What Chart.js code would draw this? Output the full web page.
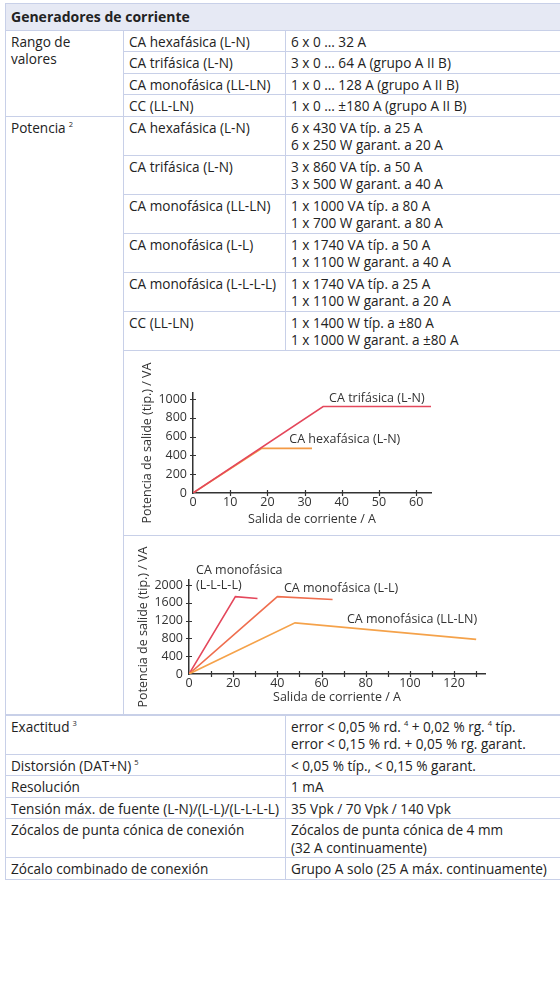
<!DOCTYPE html>
<html>
<head>
<meta charset="utf-8">
<script src="https://cdn.jsdelivr.net/npm/chart.js@4/dist/chart.umd.min.js"></script>
<style>
html,body{margin:0;padding:0;background:#fff;overflow:hidden;width:560px;height:991px}
body{font-family:'Open Sans',sans-serif;font-size:13.6px;color:#222}
table{position:absolute;left:5px;top:3px;border-collapse:collapse;table-layout:fixed;width:560px}
th,td{border:1px solid #c8d0e8;padding:2px 4px 1px 5px;line-height:17.5px;vertical-align:top;text-align:left;white-space:nowrap}
th{background:#e6e9f4;font-weight:700;font-size:14px;padding:4px 5px 4px 5px}
sup{font-size:7.5px;vertical-align:top;position:relative;top:-3px;margin-left:3px}
td.chart{padding:0}
td.gap{border-top:2px solid #c8d0e8}
.wrap{position:relative}
</style>
</head>
<body>
<table>
<colgroup><col style="width:118px"><col style="width:162px"><col style="width:280px"></colgroup>
<tr><th colspan="3">Generadores de corriente</th></tr>
<tr><td rowspan="4">Rango de<br>valores</td><td>CA hexafásica (L-N)</td><td>6 x 0 … 32 A</td></tr>
<tr><td>CA trifásica (L-N)</td><td>3 x 0 … 64 A (grupo A II B)</td></tr>
<tr><td>CA monofásica (LL-LN)</td><td>1 x 0 … 128 A (grupo A II B)</td></tr>
<tr><td>CC (LL-LN)</td><td>1 x 0 … ±180 A (grupo A II B)</td></tr>
<tr><td rowspan="8">Potencia<sup>2</sup></td><td>CA hexafásica (L-N)</td><td>6 x 430 VA típ. a 25 A<br>6 x 250 W garant. a 20 A</td></tr>
<tr><td>CA trifásica (L-N)</td><td>3 x 860 VA típ. a 50 A<br>3 x 500 W garant. a 40 A</td></tr>
<tr><td>CA monofásica (LL-LN)</td><td>1 x 1000 VA típ. a 80 A<br>1 x 700 W garant. a 80 A</td></tr>
<tr><td>CA monofásica (L-L)</td><td>1 x 1740 VA típ. a 50 A<br>1 x 1100 W garant. a 40 A</td></tr>
<tr><td>CA monofásica (L-L-L-L)</td><td>1 x 1740 VA típ. a 25 A<br>1 x 1100 W garant. a 20 A</td></tr>
<tr><td>CC (LL-LN)</td><td>1 x 1400 W típ. a ±80 A<br>1 x 1000 W garant. a ±80 A</td></tr>
<tr><td colspan="2" class="chart"><div class="wrap" style="width:320px;height:184px"><canvas id="c1"></canvas></div></td></tr>
<tr><td colspan="2" class="chart"><div class="wrap" style="width:370px;height:178px"><canvas id="c2"></canvas></div></td></tr>
<tr><td colspan="2" class="gap">Exactitud<sup>3</sup></td><td class="gap">error &lt; 0,05 % rd.<sup>4</sup> + 0,02 % rg.<sup>4</sup> típ.<br>error &lt; 0,15 % rd. + 0,05 % rg. garant.</td></tr>
<tr><td colspan="2">Distorsión (DAT+N)<sup>5</sup></td><td>&lt; 0,05 % típ., &lt; 0,15 % garant.</td></tr>
<tr><td colspan="2">Resolución</td><td>1 mA</td></tr>
<tr><td colspan="2">Tensión máx. de fuente (L-N)/(L-L)/(L-L-L-L)</td><td>35 Vpk / 70 Vpk / 140 Vpk</td></tr>
<tr><td colspan="2">Zócalos de punta cónica de conexión</td><td>Zócalos de punta cónica de 4 mm<br>(32 A continuamente)</td></tr>
<tr><td colspan="2">Zócalo combinado de conexión</td><td>Grupo A solo (25 A máx. continuamente)</td></tr>
</table>

<script>
// ── data ───────────────────────────────────────────────────────
var hexaX=[0,18.5,32],   hexaY=[0,475,475];      // CA hexafásica (L-N)
var trifX=[0,35,64],     trifY=[0,920,920];      // CA trifásica (L-N)
var llllX=[0,21,31],     llllY=[0,1740,1700];    // CA monofásica (L-L-L-L)
var llX=[0,40,65],       llY=[0,1740,1675];      // CA monofásica (L-L)
var lllnX=[0,48,130],    lllnY=[0,1150,780];     // CA monofásica (LL-LN)

// tick values
var x1Ticks=[0,10,20,30,40,50,60];
var y1Ticks=[0,200,400,600,800,1000];
var x2Ticks=[0,10,20,30,40,50,60,70,80,90,100,110,120,130];
var x2Labels=[0,20,40,60,80,100,120];
var y2Ticks=[0,400,800,1200,1600,2000];

var yTitle='Potencia de salide (tip.) / VA';
var xTitle='Salida de corriente / A';

function pts(xs,ys){return xs.map(function(x,i){return {x:x,y:ys[i]};});}

var INK='#333';
var FONT={family:'Open Sans',size:12.5};

// text notes placed in data units
var notesPlugin={
  id:'notes',
  afterDatasetsDraw:function(chart,args,opts){
    var ctx=chart.ctx,sx=chart.scales.x,sy=chart.scales.y;
    ctx.save();
    ctx.font='12.5px "Open Sans"';
    ctx.fillStyle=INK;
    ctx.textAlign='left';ctx.textBaseline='middle';
    (opts.items||[]).forEach(function(n){
      ctx.fillText(n.text,sx.getPixelForValue(n.x),sy.getPixelForValue(n.y));
    });
    ctx.restore();
  }
};

// small tick marks crossing the axes
var crossTicks={
  id:'crossTicks',
  afterDraw:function(chart){
    var ctx=chart.ctx,sx=chart.scales.x,sy=chart.scales.y;
    ctx.save();
    ctx.strokeStyle=INK;ctx.lineWidth=1.2;
    ctx.beginPath();
    sx.ticks.forEach(function(t){
      if(t.value===0)return;
      var px=Math.round(sx.getPixelForValue(t.value))+0.5;
      ctx.moveTo(px,sx.top-3);ctx.lineTo(px,sx.top+3);
    });
    sy.ticks.forEach(function(t){
      if(t.value===0)return;
      var py=Math.round(sy.getPixelForValue(t.value))+0.5;
      ctx.moveTo(sy.right-3,py);ctx.lineTo(sy.right+3,py);
    });
    ctx.stroke();
    ctx.restore();
  }
};

function ds(data,color){
  return {data:data,borderColor:color,borderWidth:1.6,pointRadius:0,fill:false,tension:0};
}

function fixTicks(arr){
  return function(s){s.ticks=arr.map(function(v){return {value:v};});};
}

function makeChart(id,datasets,xmax,ymax,xt,xl,yt,pad,yw,xh,notes){
  return new Chart(document.getElementById(id).getContext('2d'),{
    type:'line',
    data:{datasets:datasets},
    options:{
      responsive:true,maintainAspectRatio:false,animation:false,
      layout:{padding:pad},
      plugins:{legend:{display:false},tooltip:{enabled:false},notes:{items:notes}},
      scales:{
        x:{type:'linear',min:0,max:xmax,afterBuildTicks:fixTicks(xt),
           ticks:{color:INK,font:FONT,padding:2,maxRotation:0,autoSkip:false,
                  callback:function(v){return xl.indexOf(v)>=0?String(v):'';}},
           grid:{display:false,drawTicks:false},border:{display:true,color:INK,width:1.5},
           title:{display:true,text:xTitle,color:INK,font:FONT,padding:{top:0,bottom:0}},
           afterFit:function(s){s.height=xh;}},
        y:{min:0,max:ymax,afterBuildTicks:fixTicks(yt),
           ticks:{color:INK,font:FONT,padding:6,autoSkip:false,
                  callback:function(v){return String(v);}},
           grid:{display:false,drawTicks:false},border:{display:true,color:INK,width:1.5},
           title:{display:true,text:yTitle,color:INK,font:FONT,padding:{top:5,bottom:0}},
           afterFit:function(s){s.width=yw;}}
      }
    },
    plugins:[notesPlugin,crossTicks]
  });
}

makeChart('c1',
  [ds(pts(trifX,trifY),'#e4475b'),ds(pts(hexaX,hexaY),'#f49a45')],
  64,1064,x1Ticks,x1Ticks,y1Ticks,
  {left:11,right:13,top:42,bottom:8},58,34,
  [{text:'CA trifásica (L-N)',x:36.6,y:1010},{text:'CA hexafásica (L-N)',x:25.9,y:570}]);

makeChart('c2',
  [ds(pts(lllnX,lllnY),'#f5a24a'),ds(pts(llX,llY),'#ef6e4e'),ds(pts(llllX,llllY),'#e4475b')],
  134,2115,x2Ticks,x2Labels,y2Ticks,
  {left:7,right:9,top:44,bottom:9},58,31,
  [{text:'CA monofásica',x:3.2,y:2322},{text:'(L-L-L-L)',x:3.2,y:2000},
   {text:'CA monofásica (L-L)',x:43,y:1931},{text:'CA monofásica (LL-LN)',x:71.5,y:1218}]);
</script>
</body>
</html>
